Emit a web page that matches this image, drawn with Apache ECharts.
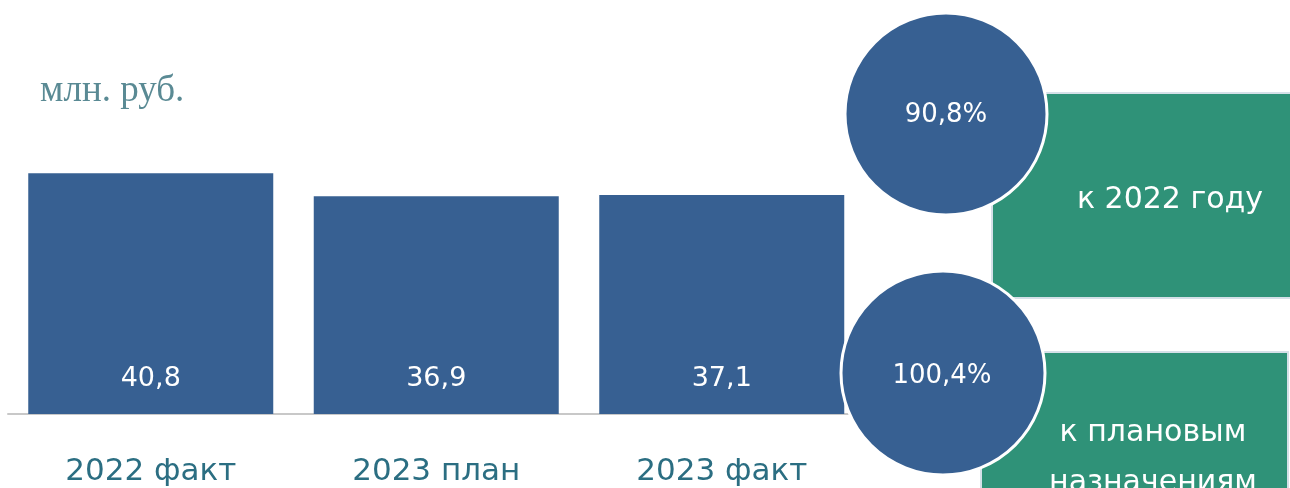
<!DOCTYPE html>
<html>
<head>
<meta charset="utf-8">
<script src="https://cdn.jsdelivr.net/npm/echarts@6/dist/echarts.min.js"></script>
<style>
  html, body { margin: 0; padding: 0; background: #fff; }
  #chart { width: 1290px; height: 488px; }
</style>
</head>
<body>
<div id="chart"></div>
<script>
// данные
const categories = ['2022 факт', '2023 план', '2023 факт'];
const values = [40.8, 36.9, 37.1];
const percentLabels = ['90,8%', '100,4%'];
const percentNotes = ['к 2022 году', 'к плановым\nназначениям'];
const unitLabel = 'млн. руб.';

const font = '"DejaVu Sans", "Noto Sans", sans-serif';
const barColor = '#376092';
const greenColor = '#2f9278';

const chart = echarts.init(document.getElementById('chart'), null, { renderer: 'canvas' });

const option = {
  animation: false,
  backgroundColor: '#fff',
  grid: { left: 8, right: 425.5, top: 60, bottom: 74, containLabel: false },
  xAxis: {
    type: 'category',
    data: categories,
    axisLine: { show: true, lineStyle: { color: '#c8c8c8', width: 2 } },
    axisTick: { show: false },
    axisLabel: {
      margin: 42,
      fontSize: 31,
      fontFamily: font,
      color: '#2b6e82'
    }
  },
  yAxis: {
    type: 'value',
    min: 0,
    max: 60,
    show: false,
    splitLine: { show: false }
  },
  series: [
    {
      type: 'bar',
      data: values,
      barWidth: 245,
      itemStyle: { color: barColor },
      label: {
        show: true,
        position: 'insideBottom',
        distance: 22,
        fontSize: 27,
        fontFamily: font,
        color: '#fff',
        formatter: (p) => String(p.value).replace('.', ',')
      }
    }
  ],
  graphic: [
    {
      type: 'text',
      left: 40,
      top: 73,
      style: { text: unitLabel, font: '37px "Liberation Serif", serif', fill: '#5a8a94' }
    },
    // зелёные плашки
    {
      type: 'rect', z: 10,
      shape: { x: 992, y: 93, width: 310, height: 205 },
      style: { fill: greenColor, stroke: '#d5e0e8', lineWidth: 2 }
    },
    {
      type: 'text', z: 11,
      x: 1170, y: 200,
      style: { text: percentNotes[0], font: '30px ' + font, fill: '#fff', align: 'center', verticalAlign: 'middle' }
    },
    {
      type: 'rect', z: 10,
      shape: { x: 981, y: 352, width: 307, height: 160 },
      style: { fill: greenColor, stroke: '#d5e0e8', lineWidth: 2 }
    },
    {
      type: 'text', z: 11,
      x: 1153, y: 458,
      style: { text: percentNotes[1], font: '30px ' + font, fill: '#fff', align: 'center', verticalAlign: 'middle', lineHeight: 50 }
    },
    // круги
    {
      type: 'circle', z: 20,
      shape: { cx: 946, cy: 114, r: 101 },
      style: { fill: barColor, stroke: '#fff', lineWidth: 3 }
    },
    {
      type: 'text', z: 21,
      x: 946, y: 115,
      style: { text: percentLabels[0], font: '26px ' + font, fill: '#fff', align: 'center', verticalAlign: 'middle' }
    },
    {
      type: 'circle', z: 20,
      shape: { cx: 943, cy: 373, r: 102 },
      style: { fill: barColor, stroke: '#fff', lineWidth: 3 }
    },
    {
      type: 'text', z: 21,
      x: 942, y: 376,
      style: { text: percentLabels[1], font: '26px ' + font, fill: '#fff', align: 'center', verticalAlign: 'middle' }
    }
  ]
};

chart.setOption(option);
</script>
</body>
</html>
